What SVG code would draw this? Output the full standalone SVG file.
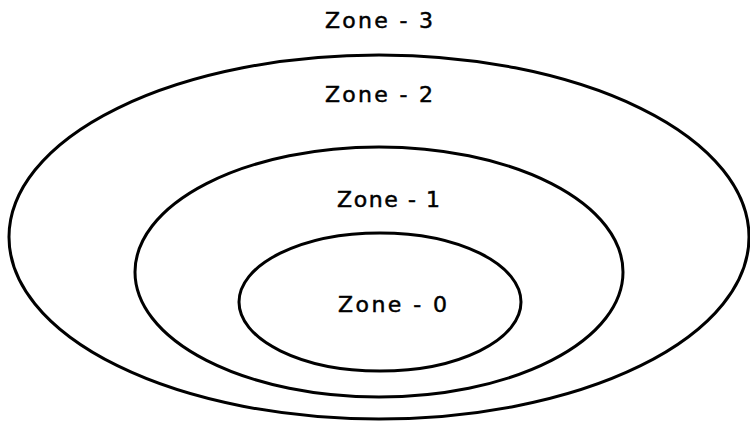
<svg xmlns="http://www.w3.org/2000/svg" width="750" height="421" viewBox="0 0 750 421">
<style>
.zone{fill:none;stroke:#000;stroke-width:3}
.lbl{font-family:"DejaVu Sans","Liberation Sans",sans-serif;font-size:22px;fill:#000;stroke:#000;stroke-width:0.5;text-anchor:start}
</style>
<rect width="750" height="421" fill="#fff"/>
<g id="zone3">
<text class="lbl" x="325" y="28" textLength="108" lengthAdjust="spacing">Zone - 3</text>
</g>
<g id="zone2">
<ellipse class="zone" cx="379" cy="237" rx="370" ry="182"/>
<text class="lbl" x="325" y="102" textLength="108" lengthAdjust="spacing">Zone - 2</text>
</g>
<g id="zone1">
<ellipse class="zone" cx="379" cy="272" rx="244" ry="125"/>
<text class="lbl" x="337" y="207" textLength="103" lengthAdjust="spacing">Zone - 1</text>
</g>
<g id="zone0">
<ellipse class="zone" cx="380" cy="302" rx="141" ry="69" stroke-width="2.6"/>
<text class="lbl" x="338" y="312" textLength="109" lengthAdjust="spacing">Zone - 0</text>
</g>
<g id="connectors"/>
</svg>
